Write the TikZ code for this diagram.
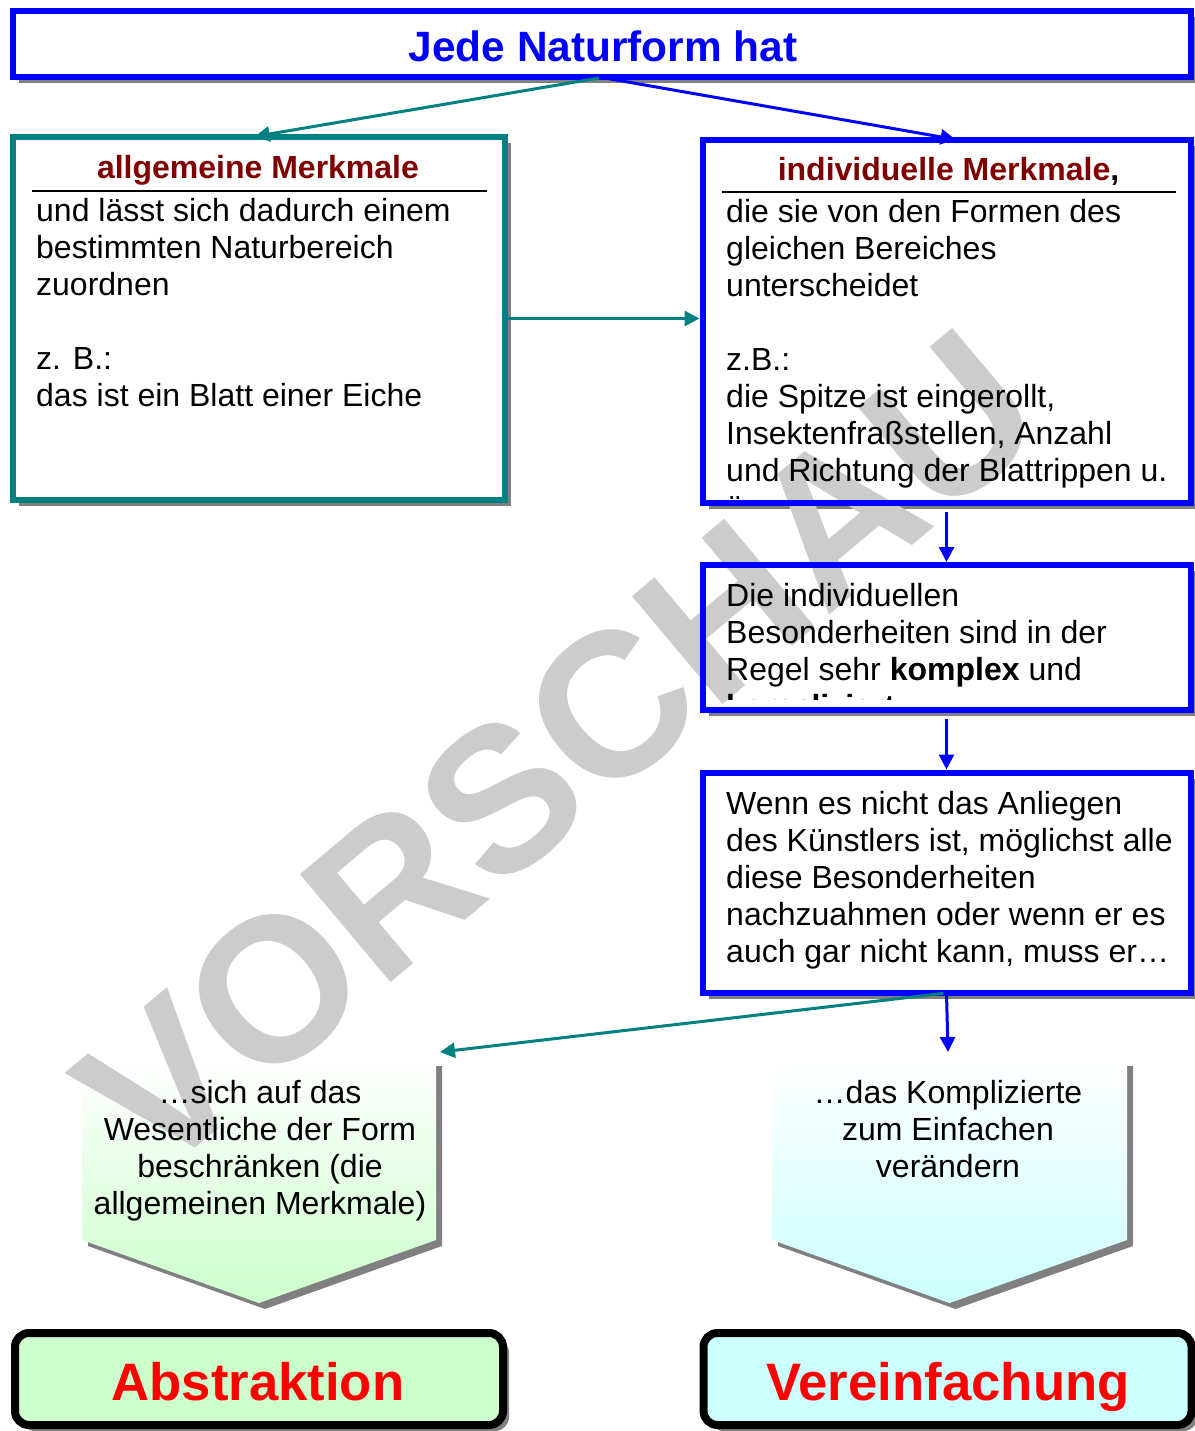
\documentclass[tikz,border=0pt]{standalone}
\usepackage{fontspec}
\setmainfont{Liberation Sans}
\usetikzlibrary{shadows,arrows.meta}

\definecolor{dunkelrot}{RGB}{128,0,0}
\definecolor{hellgruen}{RGB}{204,255,204}
\definecolor{helltuerkis}{RGB}{204,255,255}
\definecolor{schatten}{RGB}{128,128,128}

\tikzset{
    kasten/.style={rectangle, fill=white, inner sep=0pt, outer sep=0pt,
        drop shadow={shadow xshift=6pt, shadow yshift=-6pt, fill=schatten, opacity=1}},
    endkasten/.style={kasten, rounded corners=14pt, draw=black, line width=8pt,
        minimum width=488pt, minimum height=92pt},
    rahmen/.style={line width=6pt},
    fliess/.style={anchor=base west, inner sep=0pt, align=left, font=\fontsize{32}{37}\selectfont},
    mitte/.style={anchor=base, inner sep=0pt, align=center, font=\fontsize{32}{37}\selectfont},
    titel/.style={anchor=base, inner sep=0pt, text=dunkelrot, font=\fontsize{32}{37}\selectfont\bfseries},
    ergebnis/.style={anchor=base, inner sep=0pt, text=red, font=\fontsize{52.7}{56}\selectfont\bfseries},
    pfeil/.style={line width=3pt, ->}
}

\begin{document}
\begin{tikzpicture}[x=1pt, y=-1pt, >={Triangle[length=15pt,width=15pt]}]
    \useasboundingbox (0,0) rectangle (1194,1431);
    \node[kasten, minimum width=1178pt, minimum height=66.5pt] (natur) at (602,44.25) {};
    \node[kasten, minimum width=491.5pt, minimum height=363pt] (allg) at (258.75,318.5) {};
    \node[kasten, minimum width=488pt, minimum height=362.5pt] (indiv) at (946.5,321.25) {};
    \node[kasten, minimum width=488pt, minimum height=144.5pt] (kompl) at (946.5,637.25) {};
    \node[kasten, minimum width=488pt, minimum height=220.5pt] (kuenstler) at (946.5,882.75) {};
    \fill[schatten] (88,1066) -- (442,1066) -- (442,1246) -- (265,1309) -- (88,1246) -- cycle;
    \shade[top color=white, bottom color=hellgruen] (82,1060) -- (436,1060) -- (436,1240) -- (259,1303) -- (82,1240) -- cycle;
    \fill[schatten] (778,1066) -- (1133,1066) -- (1133,1246) -- (955.5,1309) -- (778,1246) -- cycle;
    \shade[top color=white, bottom color=helltuerkis] (772,1060) -- (1127,1060) -- (1127,1240) -- (949.5,1303) -- (772,1240) -- cycle;
    \coordinate (abstrziel) at (440,1052);
    \coordinate (vereinziel) at (948,1052);
    % Wasserzeichen
    \node[rotate=40, inner sep=0pt, text=gray!40, font=\fontsize{205}{205}\selectfont\bfseries] (vorschau) at (558,751) {VORSCHAU};
    \node[anchor=base, inner sep=0pt, text=blue, font=\fontsize{42.4}{44}\selectfont\bfseries] (naturtitel) at (603,62) {Jede Naturform hat};
    \node[titel] (allgtitel) at (258,179) {allgemeine Merkmale};
    \draw[line width=2pt] (32,191) -- (487,191);
    % base = letzte Zeile
    \node[fliess] (allgtext) at (36,406) {und lässt sich dadurch einem\\bestimmten Naturbereich\\zuordnen\\[37pt]z. B.:\\das ist ein Blatt einer Eiche};
    \node[titel] (indivtitel) at (948.5,181) {individuelle Merkmale\textcolor{black}{,}};
    \draw[line width=2pt] (722,192) -- (1176,192);
    \begin{scope}
        \clip (indiv.north west) rectangle ([yshift=4pt]indiv.south east);
        \node[fliess] (indivtext) at (726,518) {die sie von den Formen des\\gleichen Bereiches\\unterscheidet\\[37pt]z.B.:\\die Spitze ist eingerollt,\\Insektenfraßstellen, Anzahl\\und Richtung der Blattrippen u.\\ä.};
    \end{scope}
    \begin{scope}
        \clip (kompl.north west) rectangle ([yshift=10pt]kompl.south east);
        \node[fliess] (kompltext) at (726,717) {Die individuellen\\Besonderheiten sind in der\\Regel sehr \textbf{komplex} und\\\textbf{kompliziert}.};
    \end{scope}
    \node[fliess] (kuenstlertext) at (726,962) {Wenn es nicht das Anliegen\\des Künstlers ist, möglichst alle\\diese Besonderheiten\\nachzuahmen oder wenn er es\\auch gar nicht kann, muss er…};
    \node[mitte] (abstrtext) at (260,1214) {…sich auf das\\Wesentliche der Form\\beschränken (die\\allgemeinen Merkmale)};
    \node[mitte] (vereintext) at (948,1177) {…das Komplizierte\\zum Einfachen\\verändern};
    \draw[rahmen, blue] (natur.north west) rectangle (natur.south east);
    \draw[rahmen, teal] (allg.north west) rectangle (allg.south east);
    \draw[rahmen, blue] (indiv.north west) rectangle (indiv.south east);
    \draw[rahmen, blue] (kompl.north west) rectangle (kompl.south east);
    \draw[rahmen, blue] (kuenstler.north west) rectangle (kuenstler.south east);
    \draw[pfeil, teal, shorten <=3pt, shorten >=3pt] (natur.south) -- ([xshift=-7pt]allg.north);
    \draw[pfeil, blue, shorten <=3pt, shorten >=3pt] (natur.south) -- ([xshift=12pt]indiv.north);
    \draw[pfeil, teal, shorten <=3pt, shorten >=3pt] (allg.east) -- (allg.east -| indiv.west);
    \draw[pfeil, blue, shorten <=9pt, shorten >=3pt] (indiv.south) -- (kompl.north);
    \draw[pfeil, blue, shorten <=9pt, shorten >=3pt] (kompl.south) -- (kuenstler.north);
    \draw[pfeil, blue, shorten <=3pt] (kuenstler.south) -- (vereinziel);
    \draw[pfeil, teal, shorten <=3pt] (kuenstler.south) -- (abstrziel);
    \node[endkasten, fill=hellgruen] (abstrbox) at (259,1379) {};
    \node[endkasten, fill=helltuerkis] (vereinbox) at (947.5,1379) {};
    \node[ergebnis] (abstr) at (258,1400) {Abstraktion};
    \node[ergebnis] (verein) at (948,1400) {Vereinfachung};
\end{tikzpicture}
\end{document}
